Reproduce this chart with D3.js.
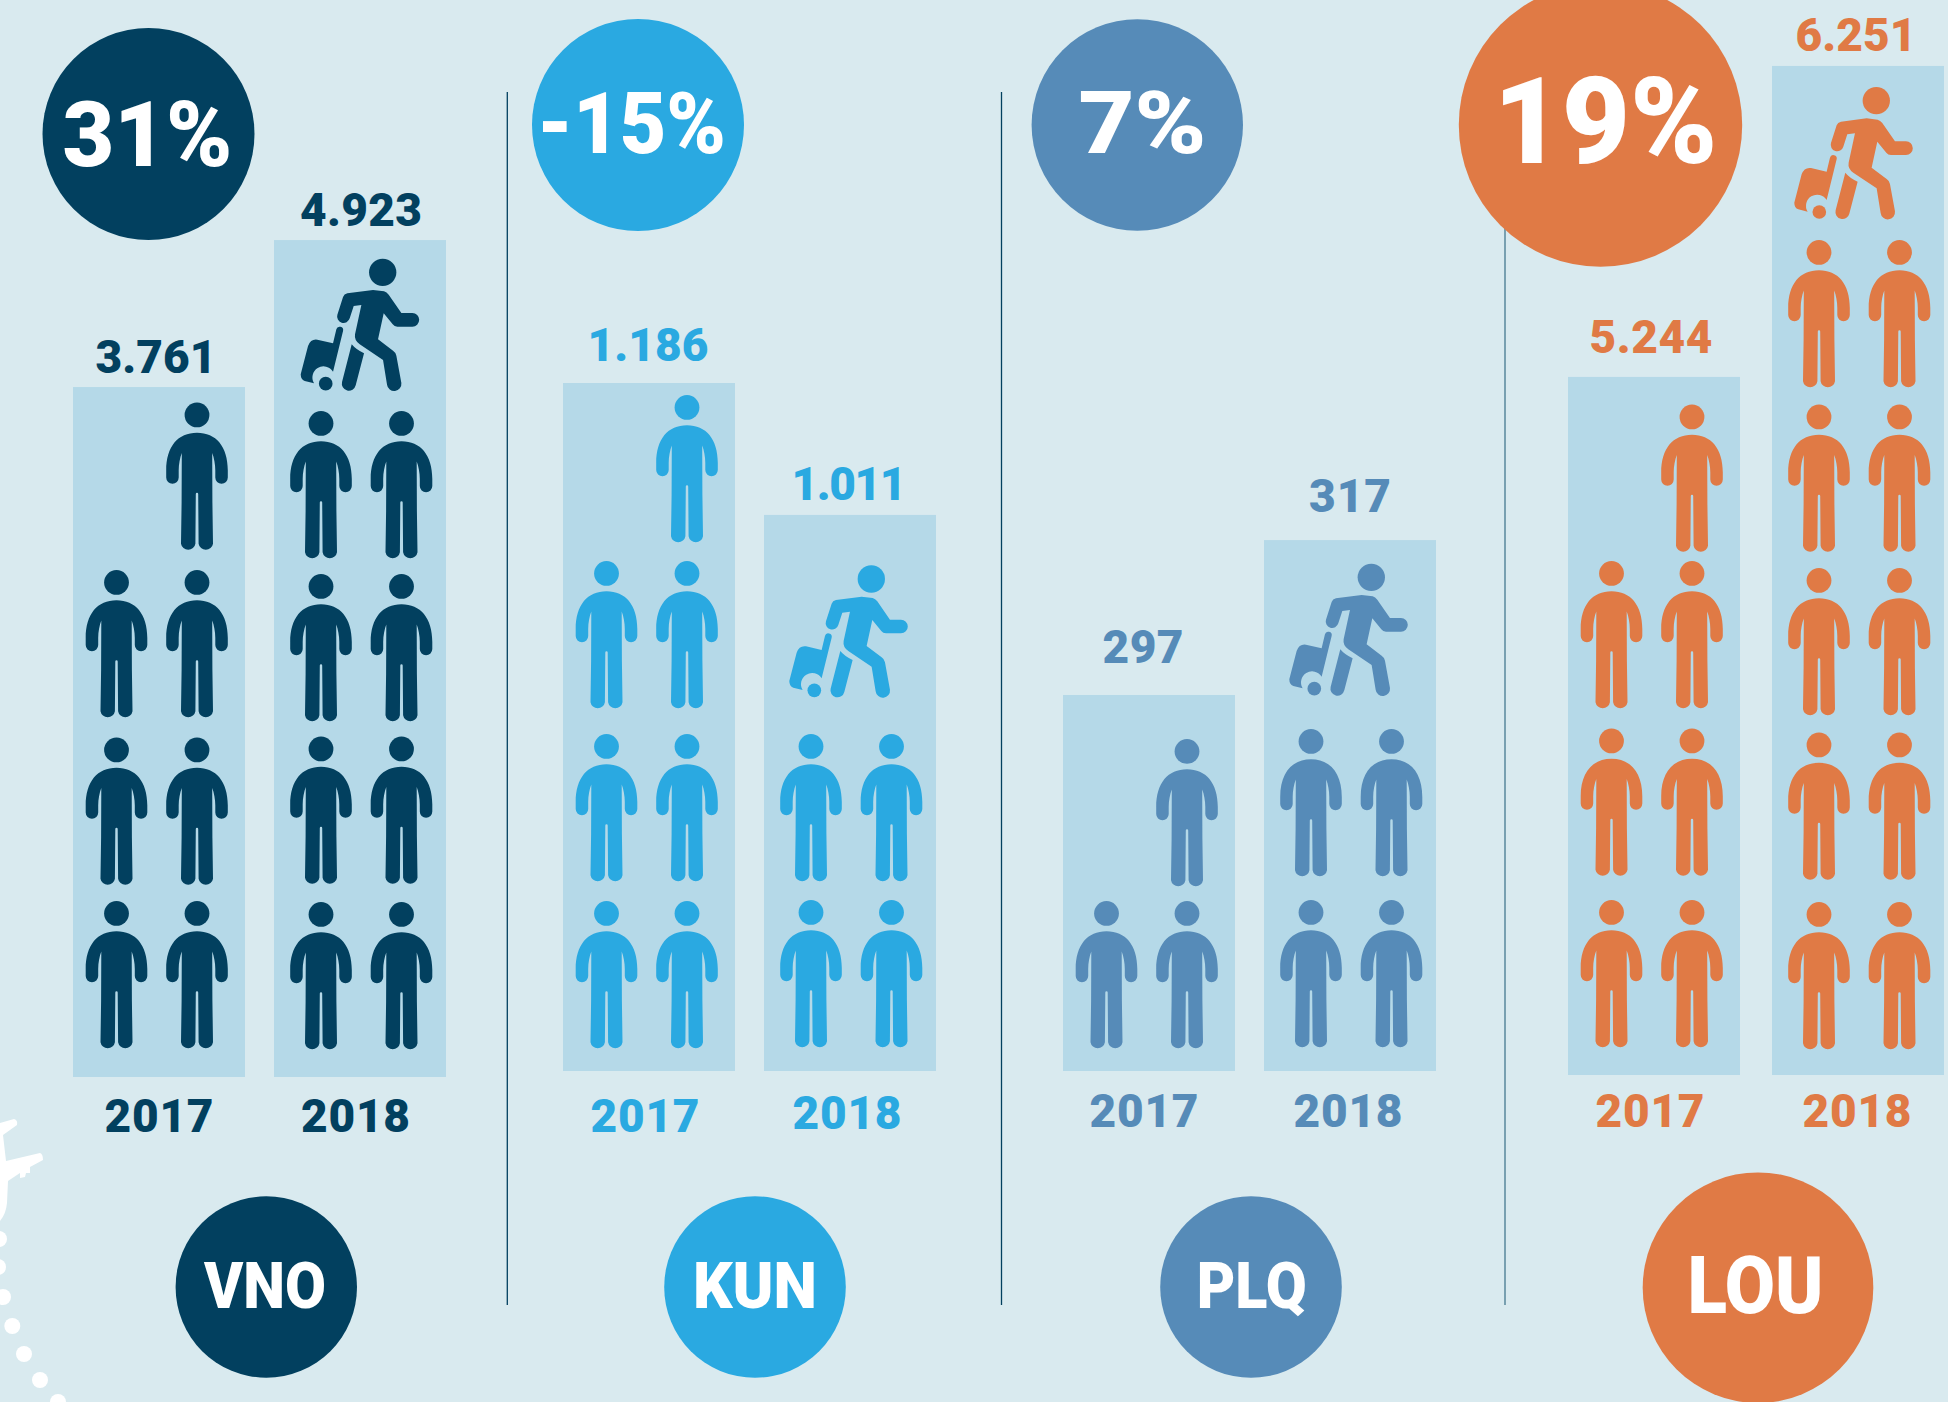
<!DOCTYPE html>
<html>
<head>
<meta charset="utf-8">
<script src="https://cdn.jsdelivr.net/npm/d3@7"></script>
<style>
  html, body { margin: 0; background: #d9eaef; }
  svg { display: block; }
  text { font-family: Roboto, sans-serif; font-weight: 900; text-anchor: middle; }
</style>
</head>
<body>
<svg id="chart"></svg>
<script>
const airports = ['VNO', 'KUN', 'PLQ', 'LOU'];
const years = ['2017', '2018'];
const changes = [31, -15, 7, 19];
const passengers2017 = [3761, 1186, 297, 5244];
const passengers2018 = [4923, 1011, 317, 6251];

// bar length, in rows of icons
const barRows2017 = [4.169, 4.157, 2.272, 4.218];
const barRows2018 = [5.057, 3.36, 3.208, 6.097];

// people in each row, counted from the bottom
const people2017 = [[2, 2, 2, 1], [2, 2, 2, 1], [2, 1], [2, 2, 2, 1]];
const people2018 = [[2, 2, 2, 2], [2, 2], [2, 2], [2, 2, 2, 2, 2]];

const colors = ['#02405f', '#2aa9e1', '#568bb8', '#e07a45'];

// layout
const width = 1948;
const height = 1402;
const barColor = '#b5d9e8';
const barWidth = 172;
const panelLeft = [73, 563, 1063, 1568];
const panelWidth = [373, 373, 373, 376];
const baseline = [1077, 1071, 1071, 1075];
const rowNudge = [
  [[0, 2, 0, -2], [1, 1, 4, 6.5, 19.7]],
  [[0, -1.5, -9, -9.5], [-1, -1.5, -4.7]],
  [[0, 3.5], [-1, -6.5, -6.3]],
  [[-1, -7, -9, 0], [1, -3, -2, 0, 1, 13.5]],
];
const travellerDx = [26.7, 25.3, 25.3, 22.3];
const columnStart = [43.5, 47];
const valueDx = [[-3, 1], [-1, -1], [-6, 0], [-3, -2]];
const valueDy = [[-14.5, -14], [-22, -15], [-32, -28], [-24, -15]];
const valueLength = [[121, 122], [121, 115], [81, 82], [123, 121]];
const yearDx = [[0, -4.5], [-4, -3], [-5, -2], [-4, -1]];
const yearY = [[1131.7, 1131.7], [1131.7, 1129], [1126.7, 1126.7], [1126.7, 1126.7]];
const yearLength = 109;

const changeCircles = [
  { cx: 148.5, cy: 134, r: 106, tx: 147.5, ty: 165.7, size: 91, length: 170 },
  { cx: 638, cy: 125, r: 106, tx: 631.5, ty: 153, size: 86, length: 189 },
  { cx: 1137.3, cy: 125, r: 105.7, tx: 1142.5, ty: 153, size: 88, length: 128 },
  { cx: 1600.5, cy: 125, r: 141.7, tx: 1605.5, ty: 163.3, size: 121, length: 224 },
];
const nameCircles = [
  { cx: 266.3, cy: 1287, r: 90.7, tx: 265, ty: 1308, size: 65, length: 122 },
  { cx: 755, cy: 1287, r: 90.8, tx: 755, ty: 1308, size: 65, length: 124 },
  { cx: 1251, cy: 1287, r: 90.8, tx: 1251.7, ty: 1308, size: 65, length: 110 },
  { cx: 1758, cy: 1287.7, r: 115.3, tx: 1755.5, ty: 1312.7, size: 80, length: 136 },
];
const dividers = [
  { x: 507.3, color: '#02405f' },
  { x: 1001.5, color: '#02405f' },
  { x: 1505, color: '#44788f' },
];
const trailDots = [[-1, 1239], [-2, 1267], [3, 1297], [12.3, 1326], [24, 1354], [40, 1380], [58, 1402]];

const personBody = 'M0 30.3C19 30.3 30.8 44 30.8 68L30.8 75A6.25 6.25 0 0 1 18.3 75L18.3 68C18.3 62 17 55 15.2 50.5'
  + 'L15.4 100L16 141.2A7.3 7.3 0 0 1 1.6 141.2L1.2 91.5A1.2 1.2 0 0 0 -1.2 91.5L-1.6 141.2A7.3 7.3 0 0 1 -16 141.2'
  + 'L-15.4 100L-15.2 50.5C-17 55 -18.3 62 -18.3 68L-18.3 75A6.25 6.25 0 0 1 -30.8 75L-30.8 68C-30.8 44 -19 30.3 0 30.3Z';

// drawn at 3x, scaled down on use
const travellerBody = 'M127 115Q130 106 140 104L217 94L250 98Q258 100 264 108L302 163L335 163A20.5 20.5 0 0 1 335 204'
  + 'L290 204Q281 204 276 197L249 164L232 242L277 276Q285 281 287 291L302 373A21.5 21.5 0 0 1 259 378L247 304L177 257'
  + 'Q160 245 163 227L182 139L159 142L147 179A19 19 0 0 1 110 168Z';
const travellerLeg = 'M153 257Q165 272 190 284L165 380A21 21 0 0 1 124 370Z';
const travellerCase = 'M97 254L107 212A10 10 0 0 1 127 217L97 339A33 33 0 0 0 40 374L12 367Q0 362 0 347L22 262Q30 240 50 243Z';

const svg = d3.select('#chart').attr('width', width).attr('height', height);
const format = d3.formatLocale({ decimal: ',', thousands: '.', grouping: [3], currency: ['', ''] }).format(',d');

svg.append('rect').attr('width', width).attr('height', height).attr('fill', '#d9eaef');

// Plane and its dotted trail
svg.append('path')
  .attr('d', 'M0 1123L14 1119Q18 1120 17 1125L3 1135L6 1161L40 1153Q43 1154 43 1160L30 1167L30 1173L26 1173L25 1177L20 1178L20 1173L8 1181L7 1203Q6 1214 0 1221Z')
  .attr('fill', '#fff');
svg.selectAll('.trail')
  .data(trailDots)
  .enter().append('circle')
    .attr('class', 'trail')
    .attr('cx', d => d[0])
    .attr('cy', d => d[1])
    .attr('r', 8)
    .attr('fill', '#fff');

// Dividers
svg.selectAll('.divider')
  .data(dividers)
  .enter().append('line')
    .attr('class', 'divider')
    .attr('x1', d => d.x)
    .attr('x2', d => d.x)
    .attr('y1', 92)
    .attr('y2', 1305)
    .attr('stroke', d => d.color)
    .attr('stroke-width', 1.3);

const rowStep = d3.scaleLinear().domain([0, 1]).range([0, 165.5]);
const rowY = d3.scaleLinear().domain([0, 1]).range([901, 735.5]);
const columnX = d3.scaleLinear().domain([0, 1]).range([0, 80.5]);

airports.forEach((airport, a) => {
  const color = colors[a];
  const gap = panelWidth[a] - 2 * barWidth;
  const x = d3.scaleBand()
    .domain(years)
    .range([panelLeft[a], panelLeft[a] + panelWidth[a]])
    .paddingInner(gap / (barWidth + gap));

  const bars = years.map((year, y) => ({
    year,
    y,
    value: y === 0 ? passengers2017[a] : passengers2018[a],
    rows: y === 0 ? barRows2017[a] : barRows2018[a],
    people: y === 0 ? people2017[a] : people2018[a],
  }));

  const g = svg.append('g').attr('class', airport);

  // Bars
  g.selectAll('.bar')
    .data(bars)
    .enter().append('rect')
      .attr('class', 'bar')
      .attr('fill', barColor)
      .attr('x', d => x(d.year))
      .attr('y', d => baseline[a] - rowStep(d.rows))
      .attr('width', x.bandwidth())
      .attr('height', d => rowStep(d.rows));

  // Value and year labels
  g.selectAll('.value')
    .data(bars)
    .enter().append('text')
      .attr('class', 'value')
      .attr('fill', color)
      .attr('font-size', 46)
      .attr('textLength', d => valueLength[a][d.y])
      .attr('x', d => x(d.year) + x.bandwidth() / 2 + valueDx[a][d.y])
      .attr('y', d => baseline[a] - rowStep(d.rows) + valueDy[a][d.y])
      .text(d => format(d.value));
  g.selectAll('.year')
    .data(bars)
    .enter().append('text')
      .attr('class', 'year')
      .attr('fill', color)
      .attr('font-size', 46)
      .attr('textLength', yearLength)
      .attr('x', d => x(d.year) + x.bandwidth() / 2 + yearDx[a][d.y])
      .attr('y', d => yearY[a][d.y])
      .text(d => d.year);

  // People, filled from the right hand column
  bars.forEach(bar => {
    bar.people.forEach((count, row) => {
      d3.range(2 - count, 2).forEach(col => {
        const person = g.append('g')
          .attr('transform', `translate(${x(bar.year) + columnStart[bar.y] + columnX(col)}, ${rowY(row) + rowNudge[a][bar.y][row]})`)
          .attr('fill', color);
        person.append('circle').attr('cy', 12.4).attr('r', 12.4);
        person.append('path').attr('d', personBody);
      });
    });
  });

  // Traveller on top of the 2018 bar
  const topRow = bars[1].people.length;
  const traveller = g.append('g')
    .attr('transform', `translate(${x('2018') + travellerDx[a]}, ${rowY(topRow) + rowNudge[a][1][topRow]}) scale(${1 / 3})`)
    .attr('fill', color);
  traveller.append('circle').attr('cx', 246).attr('cy', 41).attr('r', 41);
  traveller.append('circle').attr('cx', 75).attr('cy', 375).attr('r', 20.5);
  traveller.append('path').attr('d', travellerBody);
  traveller.append('path').attr('d', travellerLeg);
  traveller.append('path').attr('d', travellerCase);

  // Change bubble
  const change = changeCircles[a];
  svg.append('circle')
    .attr('cx', change.cx).attr('cy', change.cy).attr('r', change.r)
    .attr('fill', color);
  svg.append('text')
    .attr('x', change.tx).attr('y', change.ty)
    .attr('font-size', change.size)
    .attr('textLength', change.length)
    .attr('lengthAdjust', 'spacingAndGlyphs')
    .attr('fill', '#fff')
    .text(`${changes[a]}%`);

  // Airport bubble
  const name = nameCircles[a];
  svg.append('circle')
    .attr('cx', name.cx).attr('cy', name.cy).attr('r', name.r)
    .attr('fill', color);
  svg.append('text')
    .attr('x', name.tx).attr('y', name.ty)
    .attr('font-size', name.size)
    .attr('textLength', name.length)
    .attr('lengthAdjust', 'spacingAndGlyphs')
    .attr('fill', '#fff')
    .text(airport);
});
</script>
</body>
</html>
